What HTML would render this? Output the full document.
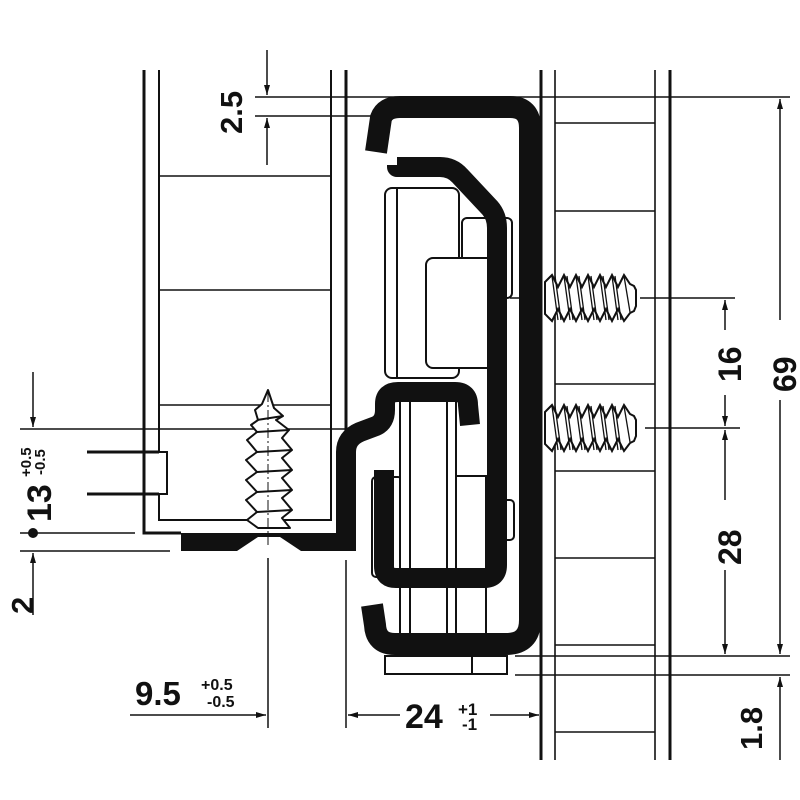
<!DOCTYPE html>
<html><head><meta charset="utf-8"><style>
html,body{margin:0;padding:0;background:#fff;width:800px;height:800px;overflow:hidden}
svg text{font-family:"Liberation Sans",Arial,sans-serif;font-weight:bold;fill:#111}
</style></head><body>
<svg width="800" height="800" viewBox="0 0 800 800" xmlns="http://www.w3.org/2000/svg">
<defs>
<marker id="a" viewBox="0 0 10 10" refX="10" refY="5" markerWidth="10" markerHeight="10" markerUnits="userSpaceOnUse" orient="auto"><path d="M0,2 L10,5 L0,8z" fill="#111"/></marker>
<g id="rscrew">
<path d="M545,282 L552,275 L558,287 L564,275 L570,287 L576,275 L582,287 L588,275 L594,287 L600,275 L606,287 L612,275 L618,287 L624,275 L630,284 L634,286 L636,290 L636,306 L634,311 L630,313 L624,321 L618,309 L612,321 L606,309 L600,321 L594,309 L588,321 L582,309 L576,321 L570,309 L564,321 L558,309 L552,321 L545,314 Z" fill="#fff" stroke="#111" stroke-width="2"/>
<path d="M552,276 L558,320 M555,276 L561,320 M564,276 L570,320 M567,276 L573,320 M576,276 L582,320 M579,276 L585,320 M588,276 L594,320 M591,276 L597,320 M600,276 L606,320 M603,276 L609,320 M612,276 L618,320 M615,276 L621,320 M624,276 L630,312" stroke="#111" stroke-width="1.3"/>
</g>
</defs>
<g stroke="#111" fill="none">
<path d="M144,70 V533 H181" stroke-width="3"/>
<path d="M159,70 V452 H167 V494 H159 V520 H331 V70" stroke-width="2"/>
<path d="M87,452 H159 M87,494 H159" stroke-width="3"/>
<path d="M346,70 V530" stroke-width="3"/>
<path d="M159,176 H331 M159,290 H331 M159,405 H331" stroke-width="1.5"/>
<path d="M541,70 V760 M670,70 V760" stroke-width="3"/>
<path d="M555,70 V760 M655,70 V760" stroke-width="1.6"/>
<path d="M555,123 H655 M555,211 H655 M555,384 H655 M555,471 H655 M555,558 H655 M555,645 H655 M555,732 H655" stroke-width="1.5"/>
<path d="M255,97 H790 M255,116 H372" stroke-width="1.5"/>
<path d="M515,656 H790 M515,675 H790" stroke-width="1.5"/>
<path d="M510,298 H540 M560,298 H570 M640,298 H735" stroke-width="1.5"/>
<path d="M20,429 H345 M520,428 H540 M645,428 H740" stroke-width="1.5"/>
<path d="M20,533 H135 M20,551 H170" stroke-width="1.5"/>
<path d="M268,558 V728 M346,560 V728" stroke-width="1.5"/>
<path d="M267,50 V95" stroke-width="1.5" marker-end="url(#a)"/>
<path d="M267,165 V118" stroke-width="1.5" marker-end="url(#a)"/>
<path d="M33,372 V427" stroke-width="1.5" marker-end="url(#a)"/>
<path d="M33,615 V553" stroke-width="1.5" marker-end="url(#a)"/>
<path d="M130,715 H266" stroke-width="1.5" marker-end="url(#a)"/>
<path d="M400,715 H348" stroke-width="1.5" marker-end="url(#a)"/>
<path d="M490,715 H539" stroke-width="1.5" marker-end="url(#a)"/>
<path d="M780,320 V99" stroke-width="1.5" marker-end="url(#a)"/>
<path d="M780,400 V654" stroke-width="1.5" marker-end="url(#a)"/>
<path d="M780,760 V677" stroke-width="1.5" marker-end="url(#a)"/>
<path d="M725,330 V300" stroke-width="1.5" marker-end="url(#a)"/>
<path d="M725,395 V426" stroke-width="1.5" marker-end="url(#a)"/>
<path d="M725,500 V430" stroke-width="1.5" marker-end="url(#a)"/>
<path d="M725,570 V654" stroke-width="1.5" marker-end="url(#a)"/>
</g>
<circle cx="33" cy="533" r="5" fill="#111"/>
<g stroke="#111" stroke-width="2" fill="#fff">
<rect x="385" y="188" width="74" height="190" rx="7"/>
<line x1="397" y1="188" x2="397" y2="378"/>
<rect x="462" y="218" width="50" height="80" rx="5"/>
<rect x="426" y="258" width="70" height="110" rx="7"/>
<rect x="372" y="477" width="30" height="100" rx="4"/>
<rect x="400" y="400" width="56" height="250"/>
<line x1="410" y1="400" x2="410" y2="650"/>
<line x1="447" y1="400" x2="447" y2="650"/>
<rect x="456" y="476" width="30" height="174"/>
<rect x="490" y="500" width="24" height="40" rx="4"/>
<rect x="385" y="656" width="87" height="18"/>
<rect x="472" y="656" width="35" height="18"/>
</g>
<g fill="none" stroke="#111" stroke-linejoin="round">
<path d="M376,152 L381,118 Q385,107 400,107 H510 Q530,107 530,128 V620 Q530,644 506,644 H395 Q376,644 375,625 L372,605" stroke-width="22"/>
<path d="M397,165 V167 H440 Q452,167 460,176 L490,208 Q497,216 497,228 V565 Q497,578 484,578 H396 Q384,578 384,566 V470" stroke-width="20"/>
<path d="M346,542 V452 Q346,438 360,432 L376,426 Q385,422 385,410 V404 Q385,392 398,392 H455 Q468,392 468,405 L470,425" stroke-width="20"/>
</g>
<path d="M181,533 H356 V551 H181 Z" fill="#111"/>
<path d="M237,551 L258,537 H280 L301,551 Z" fill="#fff"/>
<path d="M520,275 L541,250 V340 L520,320 Z M520,405 L541,380 V470 L520,450 Z" fill="#111"/>
<use href="#rscrew"/>
<use href="#rscrew" transform="translate(0,130)"/>
<!-- left screw -->
<g stroke="#111" stroke-width="2" fill="#fff" stroke-linejoin="round">
<path d="M268,390 L274,408 L283,416 L276,420 L289,430 L282,438 L292,450 L282,458 L292,470 L282,478 L292,490 L282,498 L292,510 L282,518 L290,528 L258,528 L247,520 L257,512 L246,500 L257,492 L246,480 L257,472 L246,460 L257,452 L247,440 L257,432 L251,425 L258,420 L255,410 L262,404 Z"/>
<path d="M257,432 L289,430 M257,452 L292,450 M257,472 L292,470 M257,492 L292,490 M257,512 L292,510 M257,420 L283,416" stroke-width="2"/>
<path d="M268,392 V545" stroke-width="1" stroke-dasharray="10,3,2,3" fill="none"/>
</g>
<text x="0" y="0" font-size="31" transform="translate(242,134) rotate(-90)">2.5</text>
<text x="0" y="0" font-size="34" transform="translate(51,522) rotate(-90)">13</text>
<text x="0" y="0" font-size="15" transform="translate(31,477) rotate(-90)">+0.5</text>
<text x="0" y="0" font-size="15" transform="translate(45,475) rotate(-90)">-0.5</text>
<text x="0" y="0" font-size="31" transform="translate(33,614) rotate(-90)">2</text>
<text x="135" y="705" font-size="33">9.5</text>
<text x="201" y="690" font-size="16">+0.5</text>
<text x="207" y="707" font-size="16">-0.5</text>
<text x="405" y="728" font-size="34">24</text>
<text x="458" y="715" font-size="17">+1</text>
<text x="462" y="730" font-size="17">-1</text>
<text x="0" y="0" font-size="32" transform="translate(741,382) rotate(-90)">16</text>
<text x="0" y="0" font-size="32" transform="translate(741,565) rotate(-90)">28</text>
<text x="0" y="0" font-size="32" transform="translate(796,392) rotate(-90)">69</text>
<text x="0" y="0" font-size="31" transform="translate(762,750) rotate(-90)">1.8</text>
</svg>
</body></html>
